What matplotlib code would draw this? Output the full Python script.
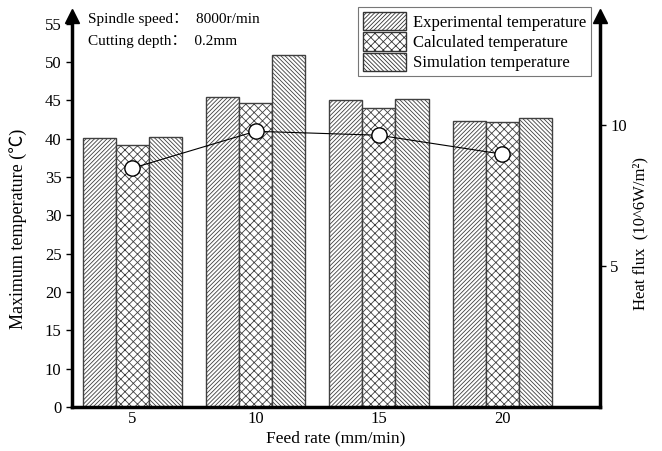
import matplotlib
matplotlib.use("Agg")
import matplotlib.pyplot as plt
import numpy as np
from matplotlib.patches import Patch

plt.rcParams['font.family'] = ['Liberation Serif', 'Noto Sans CJK SC', 'DejaVu Sans']
plt.rcParams['hatch.color'] = '#a8a8a8'
plt.rcParams['hatch.linewidth'] = 0.6

feed = [5, 10, 15, 20]
experimental = [40.1, 45.4, 45.0, 42.3]
calculated = [39.2, 44.6, 44.0, 42.2]
simulation = [40.2, 50.9, 45.1, 42.7]
heat_flux = [8.47, 9.78, 9.64, 8.97]
left_ticks = [5, 10, 15, 20, 25, 30, 35, 40, 45, 50, 55]
left_labels = ['0', '10', '15', '20', '25', '30', '35', '40', '45', '50', '55']
right_ticks = [5, 10]
series_names = ['Experimental temperature', 'Calculated temperature', 'Simulation temperature']

fig = plt.figure(figsize=(6.62, 4.51), dpi=100)
ax = fig.add_axes([72/662, 1-407/451, (600-72)/662, (407-16)/451])

w = 1.34
x = np.array(feed, dtype=float)
hatches = ['////////', 'xxxx', '\\\\\\\\\\\\\\\\']
for i, (vals, h) in enumerate(zip([experimental, calculated, simulation], hatches)):
    ax.bar(x + (i-1)*w, np.array(vals) - 5, bottom=5, width=w, facecolor='white',
           edgecolor='#404040', linewidth=1.0, hatch=h, zorder=2)

ax.set_xlim(2.56, 23.96)
ax.set_ylim(5, 55.98)
ax.set_xticks(feed)
ax.set_xticklabels([str(f) for f in feed])
ax.set_yticks(left_ticks)
ax.set_yticklabels(left_labels)
ax.tick_params(axis='x', length=0, labelsize=12, pad=3)
ax.tick_params(axis='y', direction='out', length=4, width=1, labelsize=12)
for s in ['top', 'right']:
    ax.spines[s].set_visible(False)
for s in ['left', 'bottom']:
    ax.spines[s].set_linewidth(2.5)
ax.set_xlabel('Feed rate (mm/min)', fontsize=12.5, labelpad=2)
ax.set_ylabel('Maximum temperature (℃)', fontsize=13)
ax.yaxis.set_label_coords(-0.085, 0.455)

ax2 = ax.twinx()
ax2.set_ylim(0, 13.87)
ax2.set_yticks(right_ticks)
ax2.tick_params(axis='y', direction='out', length=4, width=1, labelsize=12)
for s in ['top', 'left', 'bottom']:
    ax2.spines[s].set_visible(False)
ax2.spines['right'].set_linewidth(2.5)
ax2.plot(feed, heat_flux, color='black', linewidth=0.8, marker='o', markersize=11,
         markerfacecolor='white', markeredgecolor='black', markeredgewidth=1.0, zorder=5)
ax2.set_ylabel('Heat flux  (10^6W/m²)', fontsize=12)
ax2.yaxis.set_label_coords(1.062, 0.445)

# arrows on top of vertical axes
for xa in [0, 1]:
    ax.plot([xa], [1.0], marker='^', markersize=10, color='black', transform=ax.transAxes,
            clip_on=False, zorder=10)

ax.text(88/662, 1-20/451, 'Spindle speed：  8000r/min', transform=fig.transFigure,
        fontsize=11, va='center', ha='left')
ax.text(88/662, 1-42/451, 'Cutting depth：  0.2mm', transform=fig.transFigure,
        fontsize=11, va='center', ha='left')

handles = [Patch(facecolor='white', edgecolor='#333333', hatch=h, label=n)
           for h, n in zip(hatches, series_names)]
leg = ax2.legend(handles=handles, loc='upper right', bbox_to_anchor=(591/662, 1-7/451),
                 bbox_transform=fig.transFigure, fontsize=12, frameon=True, fancybox=False,
                 edgecolor='#555555', handlelength=2.6, handleheight=1.3, handletextpad=0.4,
                 labelspacing=0.1, borderpad=0.3, borderaxespad=0)
leg.get_frame().set_linewidth(0.8)

fig.savefig('out.png', dpi=100)
